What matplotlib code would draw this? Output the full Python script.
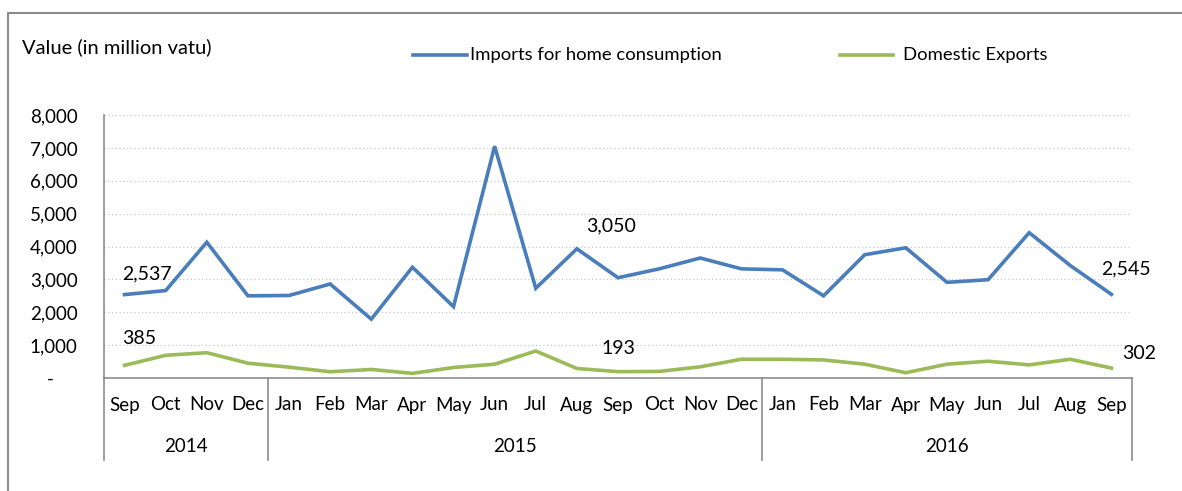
import matplotlib
matplotlib.use("Agg")
import matplotlib.pyplot as plt
from matplotlib.lines import Line2D
from matplotlib.patches import Rectangle
from matplotlib.ticker import FixedLocator
import matplotlib.transforms as mtransforms

plt.rcParams['font.family'] = ['Lato', 'DejaVu Sans']

months = ["Sep", "Oct", "Nov", "Dec",
          "Jan", "Feb", "Mar", "Apr", "May", "Jun", "Jul", "Aug", "Sep", "Oct", "Nov", "Dec",
          "Jan", "Feb", "Mar", "Apr", "May", "Jun", "Jul", "Aug", "Sep"]
years = ["2014", "2015", "2016"]
year_counts = [4, 12, 9]

imports = [2537, 2660, 4130, 2500, 2510, 2860, 1790, 3370, 2170, 7050, 2730, 3930,
           3050, 3320, 3650, 3320, 3290, 2500, 3750, 3960, 2910, 2990, 4420, 3420, 2545]
exports = [385, 690, 770, 450, 330, 190, 260, 140, 320, 420, 820, 290,
           193, 200, 340, 570, 570, 550, 420, 160, 420, 510, 400, 570, 302]

yticks = [0, 1000, 2000, 3000, 4000, 5000, 6000, 7000, 8000]
ytick_labels = ["-", "1,000", "2,000", "3,000", "4,000", "5,000", "6,000", "7,000", "8,000"]

series_names = ["Imports for home consumption", "Domestic Exports"]
blue = "#4A7EBB"
green = "#9BBB59"

FS = 13.5
W, H = 1182, 491
fig = plt.figure(figsize=(W / 100, H / 100), dpi=100)

# outer frame
fig.add_artist(Rectangle((8 / W, -0.1), 1.2, 1 - 13 / H + 0.1, transform=fig.transFigure,
                         fill=False, edgecolor="#8c8c8c", linewidth=1.5))

ax = fig.add_axes([104 / W, 1 - 378 / H, (1132 - 104) / W, (378 - 115) / H])
x = list(range(len(months)))
ax.plot(x, imports, color=blue, linewidth=2.6, solid_joinstyle='miter')
ax.plot(x, exports, color=green, linewidth=2.6, solid_joinstyle='miter')
ax.set_xlim(-0.5, len(months) - 0.5)
ax.set_ylim(0, 8000)

ax.yaxis.set_major_locator(FixedLocator(yticks))
ax.set_yticklabels([t if t != "-" else "-     " for t in ytick_labels], fontsize=FS)
ax.tick_params(axis='y', length=0, pad=19)
ax.set_xticks([])

ax.grid(axis='y', linestyle=(0, (1, 2)), color="#c8c8c8", linewidth=0.9)
ax.set_axisbelow(True)
for s in ["top", "right"]:
    ax.spines[s].set_visible(False)
ax.spines["left"].set_color("#8c8c8c")
ax.spines["bottom"].set_color("#8c8c8c")
ax.spines["left"].set_linewidth(1.2)
ax.spines["bottom"].set_linewidth(1.2)

trans = mtransforms.blended_transform_factory(ax.transData, ax.transAxes)
ax_h = 378 - 115
def ay(py):
    return (378 - py) / ax_h

# month labels
for i, m in enumerate(months):
    ax.text(i, ay(405), m, transform=trans, ha='center', va='center', fontsize=FS)

# year labels and separators
start = 0
bounds = [0]
for y, c in zip(years, year_counts):
    ax.text(start + c / 2 - 0.5, ay(446), y, transform=trans, ha='center', va='center', fontsize=FS)
    start += c
    bounds.append(start)
for b in bounds:
    ax.add_line(Line2D([b - 0.5, b - 0.5], [0, ay(460)], transform=trans,
                       color="#8c8c8c", linewidth=1.2, clip_on=False))

# data labels
def lab(i, vals, dx, dy, ha='center'):
    ax.annotate(f"{vals[i]:,}", (i, vals[i]), xytext=(dx, dy), textcoords='offset pixels',
                ha=ha, va='center', fontsize=14)

lab(0, imports, 22, 21)
lab(0, exports, 15, 27)
lab(12, imports, -7, 52)
lab(12, exports, 0, 23)
lab(24, imports, 15, 25)
lab(24, exports, 28, 15)

# y-axis title
fig.text(22 / W, 1 - 47 / H, "Value (in million vatu)", ha='left', va='center', fontsize=14.5)

# legend
fig.add_artist(Line2D([413 / W, 467 / W], [1 - 55 / H] * 2, transform=fig.transFigure,
                      color=blue, linewidth=2.6))
fig.text(470 / W, 1 - 55 / H, series_names[0], ha='left', va='center', fontsize=13.3)
fig.add_artist(Line2D([840 / W, 893 / W], [1 - 55 / H] * 2, transform=fig.transFigure,
                      color=green, linewidth=2.6))
fig.text(903 / W, 1 - 55 / H, series_names[1], ha='left', va='center', fontsize=13.3)

fig.savefig("out.png", dpi=100)
